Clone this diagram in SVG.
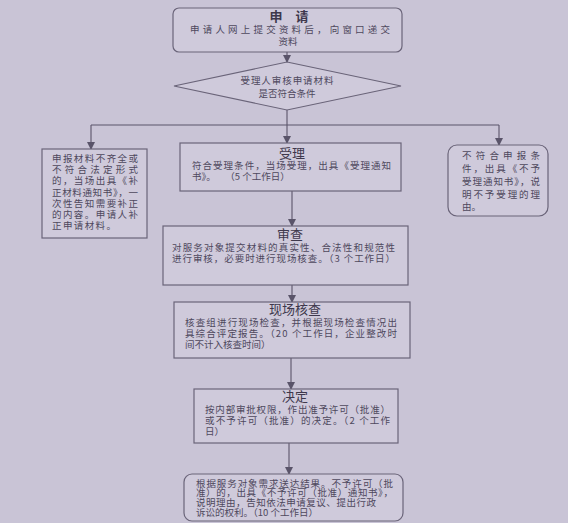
<svg xmlns="http://www.w3.org/2000/svg" width="568" height="523" viewBox="0 0 568 523">
<defs>
<marker id="ah" markerWidth="8" markerHeight="8" refX="7" refY="4" orient="auto" markerUnits="userSpaceOnUse">
<path d="M0,0 L8,4 L0,8 Z" fill="#5a546a"/>
</marker>
</defs>
<style>
.bx{fill:#cfcadb;stroke:#6a6479;stroke-width:1.2}
.ln{fill:none;stroke:#5a546a;stroke-width:1.1}
.t{font-family:"Noto Sans CJK SC","Noto Sans",sans-serif;fill:#4e485d;font-size:9.5px}
.h{font-family:"Noto Sans CJK SC","Noto Sans",sans-serif;fill:#3e384c;font-size:13px;text-anchor:middle}
</style>
<rect x="0" y="0" width="568" height="523" fill="#c9c4d6"/>

<g id="connectors">
<line class="ln" x1="287" y1="52" x2="287" y2="62" marker-end="url(#ah)"/>
<polyline class="ln" points="287,110 287,125"/>
<polyline class="ln" points="91,125 499,125"/>
<line class="ln" x1="91" y1="125" x2="91" y2="149" marker-end="url(#ah)"/>
<line class="ln" x1="499" y1="125" x2="499" y2="145" marker-end="url(#ah)"/>
<line class="ln" x1="287" y1="125" x2="287" y2="143" marker-end="url(#ah)"/>
<line class="ln" x1="292" y1="191" x2="292" y2="226" marker-end="url(#ah)"/>
<line class="ln" x1="292" y1="285" x2="292" y2="302" marker-end="url(#ah)"/>
<line class="ln" x1="291" y1="358" x2="291" y2="389" marker-end="url(#ah)"/>
<line class="ln" x1="289" y1="443" x2="289" y2="474" marker-end="url(#ah)"/>
</g>

<g id="apply">
<rect class="bx" x="173" y="8" width="229" height="44" rx="6"/>
<text class="h" x="289" y="21" font-weight="bold">申　请</text>
<text class="t" x="190" y="33" textLength="200" lengthAdjust="spacing" font-size="10.5">申请人网上提交资料后，向窗口递交</text>
<text class="t" x="288" y="45" text-anchor="middle" font-size="10.5">资料</text>
</g>

<g id="check">
<polygon class="bx" points="287,62 401,86 287,110 174,86"/>
<text class="t" x="287" y="84" text-anchor="middle" textLength="93" lengthAdjust="spacing">受理人审核申请材料</text>
<text class="t" x="287" y="97" text-anchor="middle">是否符合条件</text>
</g>

<g id="reject-supplement">
<rect class="bx" x="42" y="149" width="105" height="89"/>
<text class="t" x="52" y="162" textLength="86" lengthAdjust="spacing">申报材料不齐全或</text>
<text class="t" x="52" y="173" textLength="86" lengthAdjust="spacing">不符合法定形式</text>
<text class="t" x="52" y="184" textLength="86" lengthAdjust="spacing">的，当场出具《补</text>
<text class="t" x="52" y="195.5" textLength="86" lengthAdjust="spacing">正材料通知书》，一</text>
<text class="t" x="52" y="207" textLength="86" lengthAdjust="spacing">次性告知需要补正</text>
<text class="t" x="52" y="218" textLength="86" lengthAdjust="spacing">的内容。申请人补</text>
<text class="t" x="52" y="229" textLength="64" lengthAdjust="spacing">正申请材料。</text>
</g>

<g id="accept">
<rect class="bx" x="180" y="143" width="221" height="48"/>
<text class="h" x="292" y="158">受理</text>
<text class="t" x="192" y="169" textLength="199" lengthAdjust="spacing" font-size="10">符合受理条件，当场受理，出具《受理通知</text>
<text class="t" x="192" y="180" font-size="10">书》。　　（5 个工作日）</text>
</g>

<g id="reject">
<rect class="bx" x="448" y="145" width="100" height="71" rx="9"/>
<text class="t" x="462" y="159" textLength="78" lengthAdjust="spacing">不符合申报条</text>
<text class="t" x="462" y="172" textLength="78" lengthAdjust="spacing">件，出具《不予</text>
<text class="t" x="462" y="185" textLength="78" lengthAdjust="spacing">受理通知书》，说</text>
<text class="t" x="462" y="198" textLength="78" lengthAdjust="spacing">明不予受理的理</text>
<text class="t" x="462" y="210">由。</text>
</g>

<g id="review">
<rect class="bx" x="163" y="226" width="245" height="59"/>
<text class="h" x="290" y="239">审查</text>
<text class="t" x="172" y="251" textLength="223" lengthAdjust="spacing">对服务对象提交材料的真实性、合法性和规范性</text>
<text class="t" x="172" y="262" textLength="223" lengthAdjust="spacing">进行审核，必要时进行现场核查。（3 个工作日）</text>
</g>

<g id="inspect">
<rect class="bx" x="174" y="302" width="236" height="56"/>
<text class="h" x="295" y="314">现场核查</text>
<text class="t" x="185" y="325.5" textLength="212" lengthAdjust="spacing">核查组进行现场检查，并根据现场检查情况出</text>
<text class="t" x="185" y="336.5" textLength="212" lengthAdjust="spacing">具综合评定报告。（20 个工作日，企业整改时</text>
<text class="t" x="185" y="347.5">间不计入核查时间）</text>
</g>

<g id="decide">
<rect class="bx" x="194" y="389" width="204" height="54"/>
<text class="h" x="295" y="401">决定</text>
<text class="t" x="205" y="412.5" textLength="185" lengthAdjust="spacing">按内部审批权限，作出准予许可（批准）</text>
<text class="t" x="205" y="423.5" textLength="185" lengthAdjust="spacing">或不予许可（批准）的决定。（2 个工作</text>
<text class="t" x="205" y="434.5">日）</text>
</g>

<g id="deliver">
<rect class="bx" x="184" y="474" width="219" height="47" rx="8"/>
<text class="t" x="196" y="486.5" textLength="197" lengthAdjust="spacing" font-size="8.5">根据服务对象需求送达结果。不予许可（批</text>
<text class="t" x="196" y="496.2" textLength="197" lengthAdjust="spacing" font-size="8.5">准）的，出具《不予许可（批准）通知书》，</text>
<text class="t" x="196" y="505.9" textLength="180" lengthAdjust="spacing" font-size="8.5">说明理由，告知依法申请复议、提出行政</text>
<text class="t" x="196" y="515.6" font-size="8.5">诉讼的权利。（10 个工作日）</text>
</g>
</svg>
